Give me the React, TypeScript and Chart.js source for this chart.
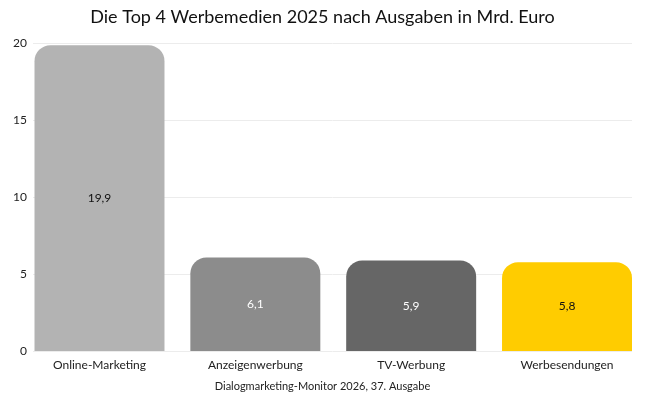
import React, { useEffect, useRef } from "react";
import { Chart, registerables } from "chart.js";

Chart.register(...registerables);

const categories = ["Online-Marketing", "Anzeigenwerbung", "TV-Werbung", "Werbesendungen"];
const values = [19.9, 6.1, 5.9, 5.8];
const barColors = ["#b3b3b3", "#8c8c8c", "#666666", "#ffcc00"];
const labelColors = ["#111111", "#ffffff", "#ffffff", "#111111"];
const yTicks = [0, 5, 10, 15, 20];
const titleText = "Die Top 4 Werbemedien 2025 nach Ausgaben in Mrd. Euro";
const sourceText = "Dialogmarketing-Monitor 2026, 37. Ausgabe";

const FONT = "Lato, 'Noto Sans', sans-serif";

const valueLabels = {
  id: "valueLabels",
  afterDatasetsDraw(chart: any) {
    const ctx = chart.ctx;
    const meta = chart.getDatasetMeta(0);
    ctx.save();
    ctx.font = `12px ${FONT}`;
    ctx.textAlign = "center";
    ctx.textBaseline = "middle";
    meta.data.forEach((el: any, i: number) => {
      ctx.fillStyle = labelColors[i];
      const y = (el.y + el.base) / 2;
      ctx.fillText(values[i].toFixed(1).replace(".", ","), el.x, y);
    });
    ctx.restore();
  },
};

export default function App() {
  const ref = useRef<HTMLCanvasElement | null>(null);
  useEffect(() => {
    document.body.style.margin = "0";
    const chart = new Chart(ref.current as HTMLCanvasElement, {
      type: "bar",
      data: {
        datasets: [
          {
            data: values.map((v, i) => ({ x: i, y: v })),
            backgroundColor: barColors,
            borderRadius: { topLeft: 16, topRight: 16, bottomLeft: 0, bottomRight: 0 },
            borderSkipped: false,
            barPercentage: 1,
            categoryPercentage: 0.834,
          },
        ],
      },
      options: {
        responsive: false,
        animation: false,
        layout: { padding: { left: 13, right: 13, top: 0, bottom: 8 } },
        plugins: {
          legend: { display: false },
          tooltip: { enabled: false },
          title: {
            display: true,
            text: titleText,
            color: "#111111",
            font: { family: FONT, size: 18, weight: "normal" },
            padding: { top: 6, bottom: 16 },
          },
          subtitle: {
            display: true,
            position: "bottom",
            text: sourceText,
            color: "#222222",
            font: { family: FONT, size: 11, weight: "normal" },
            padding: { top: 0, bottom: 0 },
          },
        },
        scales: {
          x: {
            type: "linear",
            offset: false,
            min: -0.4267,
            max: 3.417,
            grid: { display: false, drawTicks: false },
            border: { display: false },
            afterBuildTicks: (s: any) => {
              s.ticks = categories.map((_, i) => ({ value: i }));
            },
            ticks: {
              autoSkip: false,
              maxRotation: 0,
              color: "#222222",
              font: { family: FONT, size: 12 },
              padding: 7,
              callback: (v: any) => categories[v] ?? "",
            },
          },
          y: {
            min: 0,
            max: 20,
            afterBuildTicks: (s: any) => {
              s.ticks = yTicks.map((v) => ({ value: v }));
            },
            afterFit: (s: any) => {
              s.width = 20;
            },
            grid: { color: "#ececec", drawTicks: false },
            border: { display: false },
            ticks: {
              color: "#222222",
              font: { family: FONT, size: 12 },
              padding: 6,
            },
          },
        },
      },
      plugins: [valueLabels],
    });
    return () => chart.destroy();
  }, []);
  return <canvas ref={ref} width={645} height={401} style={{ display: "block" }} />;
}
